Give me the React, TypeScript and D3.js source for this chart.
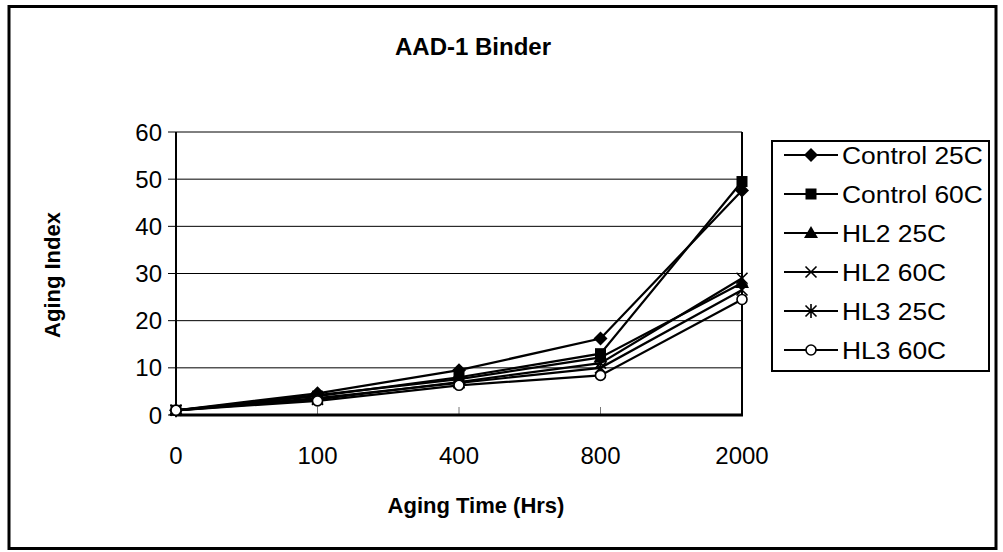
import React from "react";
import * as d3 from "d3";

const categories = ["0", "100", "400", "800", "2000"];
const yTicks = [0, 10, 20, 30, 40, 50, 60];
const seriesNames = ["Control 25C", "Control 60C", "HL2 25C", "HL2 60C", "HL3 25C", "HL3 60C"];
const control25 = [1.0, 4.6, 9.5, 16.2, 47.6];
const control60 = [1.0, 4.0, 8.0, 13.0, 49.5];
const hl2_25 = [1.0, 4.2, 7.6, 12.2, 28.0];
const hl2_60 = [1.0, 3.3, 7.0, 11.0, 29.0];
const hl3_25 = [1.0, 3.6, 6.8, 10.0, 26.5];
const hl3_60 = [1.0, 3.0, 6.3, 8.4, 24.5];
const markers = ["diamond", "square", "triangle", "x", "star", "circle"];

const W = 1003;
const H = 552;
const FONT = "'Liberation Sans', Arial, sans-serif";

function Marker({ type, x, y }: { type: string; x: number; y: number }) {
  switch (type) {
    case "diamond":
      return <path d={`M${x},${y - 7}L${x + 7},${y}L${x},${y + 7}L${x - 7},${y}Z`} fill="#000" />;
    case "square":
      return <rect x={x - 5.5} y={y - 5.5} width={11} height={11} fill="#000" />;
    case "triangle":
      return <path d={`M${x},${y - 7}L${x + 7},${y + 5}L${x - 7},${y + 5}Z`} fill="#000" />;
    case "x":
      return (
        <path d={`M${x - 5.5},${y - 5.5}L${x + 5.5},${y + 5.5}M${x + 5.5},${y - 5.5}L${x - 5.5},${y + 5.5}`} stroke="#000" strokeWidth={1.6} fill="none" />
      );
    case "star":
      return (
        <path
          d={`M${x - 5.5},${y - 5.5}L${x + 5.5},${y + 5.5}M${x + 5.5},${y - 5.5}L${x - 5.5},${y + 5.5}M${x},${y - 7}L${x},${y + 7}`}
          stroke="#000"
          strokeWidth={1.6}
          fill="none"
        />
      );
    case "circle":
      return <circle cx={x} cy={y} r={5} fill="#fff" stroke="#000" strokeWidth={1.6} />;
    default:
      return null;
  }
}

export default function App() {
  const data = [control25, control60, hl2_25, hl2_60, hl3_25, hl3_60];
  const left = 176, right = 742, top = 132, bottom = 415;
  const x = d3.scalePoint<string>().domain(categories).range([left, right]);
  const y = d3.scaleLinear().domain([0, 60]).range([bottom, top]);
  const line = d3
    .line<number>()
    .x((_, i) => x(categories[i]) as number)
    .y((d) => y(d));

  const legX = 772, legY = 141, legW = 217, legH = 230;
  const rowH = 39;
  const firstRow = 155;

  return (
    <svg width={W} height={H} style={{ position: "absolute", left: 0, top: 0 }} fontFamily={FONT}>
      <rect x={0} y={0} width={W} height={H} fill="#fff" />
      <rect x={9} y={6.5} width={987} height={542} fill="#fff" stroke="#000" strokeWidth={3} />
      <text x={473} y={55} textAnchor="middle" fontSize={24} fontWeight="bold">
        AAD-1 Binder
      </text>
      {yTicks.map((t) => (
        <line key={"g" + t} x1={left} x2={right} y1={y(t)} y2={y(t)} stroke="#000" strokeWidth={1} />
      ))}
      {yTicks.map((t) => (
        <line key={"yt" + t} x1={left - 8} x2={left} y1={y(t)} y2={y(t)} stroke="#000" strokeWidth={1} />
      ))}
      {yTicks.map((t) => (
        <text key={"yl" + t} x={left - 14} y={y(t) + 8.5} textAnchor="end" fontSize={24}>
          {t}
        </text>
      ))}
      {categories.map((c) => (
        <line key={"xt" + c} x1={x(c)} x2={x(c)} y1={bottom} y2={bottom - 8} stroke="#777" strokeWidth={1} />
      ))}
      {categories.map((c) => (
        <text key={"xl" + c} x={x(c)} y={464} textAnchor="middle" fontSize={24}>
          {c}
        </text>
      ))}
      <line x1={left} x2={left} y1={top} y2={bottom} stroke="#000" strokeWidth={2} />
      <line x1={right} x2={right} y1={top} y2={bottom} stroke="#000" strokeWidth={2} />
      <line x1={left} x2={right + 1} y1={bottom} y2={bottom} stroke="#000" strokeWidth={3} />
      {data.map((s, si) => (
        <g key={"s" + si}>
          <path d={line(s) || ""} fill="none" stroke="#000" strokeWidth={2.2} />
          {s.map((v, i) => (
            <Marker key={i} type={markers[si]} x={x(categories[i]) as number} y={y(v)} />
          ))}
        </g>
      ))}
      <text x={476} y={513} textAnchor="middle" fontSize={22} fontWeight="bold">
        Aging Time (Hrs)
      </text>
      <text transform={`translate(60,275) rotate(-90)`} textAnchor="middle" fontSize={22} fontWeight="bold">
        Aging Index
      </text>
      <rect x={legX} y={legY} width={legW} height={legH} fill="#fff" stroke="#000" strokeWidth={2} />
      {seriesNames.map((n, i) => {
        const cy = firstRow + rowH * i;
        return (
          <g key={"lg" + i}>
            <line x1={784} x2={838} y1={cy} y2={cy} stroke="#000" strokeWidth={2} />
            <Marker type={markers[i]} x={811} y={cy} />
            <text transform={`translate(842,${cy + 8.5}) scale(1.1,1)`} fontSize={24}>
              {n}
            </text>
          </g>
        );
      })}
    </svg>
  );
}
